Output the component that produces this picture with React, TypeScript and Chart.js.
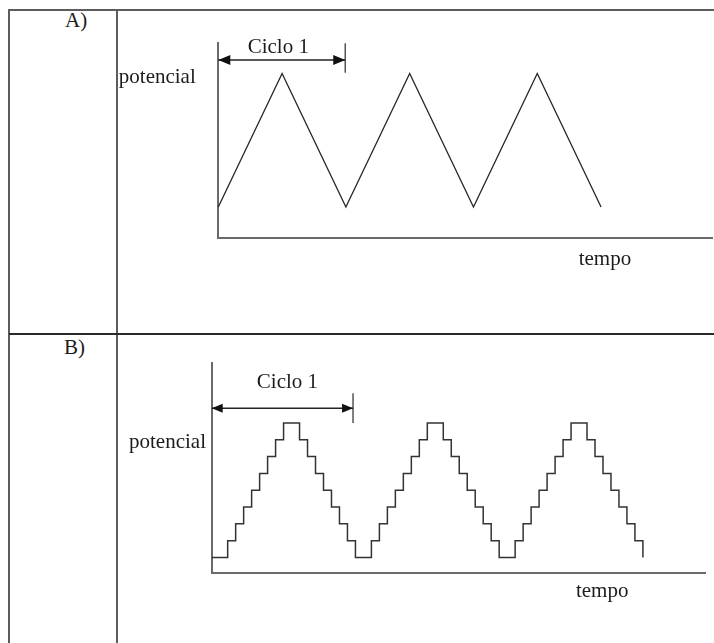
import { useEffect, useRef } from 'react';
import { Chart, registerables } from 'chart.js';

Chart.register(...registerables);

// ---- Data ----
// Panel A: triangular potential sweep (time in half-cycles, potential normalised)
const triangleTime = [0, 1, 2, 3, 4, 5, 6];
const trianglePotential = [0, 1, 0, 1, 0, 1, 0];

// Panel B: staircase potential sweep (time in step units, potential in step levels)
const stairTime = [
  0, 2, 3, 4, 5, 6, 7, 8, 9, 11, 12, 13, 14, 15, 16, 17, 18,
  20, 21, 22, 23, 24, 25, 26, 27, 29, 30, 31, 32, 33, 34, 35, 36,
  38, 39, 40, 41, 42, 43, 44, 45, 47, 48, 49, 50, 51, 52, 53, 54,
];
const stairPotential = [
  0, 1, 2, 3, 4, 5, 6, 7, 8, 7, 6, 5, 4, 3, 2, 1, 0,
  1, 2, 3, 4, 5, 6, 7, 8, 7, 6, 5, 4, 3, 2, 1, 0,
  1, 2, 3, 4, 5, 6, 7, 8, 7, 6, 5, 4, 3, 2, 1, 0,
];

// "Ciclo 1" span [start, end] and arrow level / tick extent
const cycleSpanA = [0, 1.99];
const cycleArrowA = [1.101, 1.226, 1.006]; // arrow y, tick top, tick bottom
const cycleSpanB = [0, 17.7];
const cycleArrowB = [8.87, 9.77, 8.0];

const panelLabels = ['A)', 'B)'];
const cycleLabel = 'Ciclo 1';
const yAxisLabel = 'potencial';
const xAxisLabel = 'tempo';

const FONT = "21px 'Liberation Serif', 'Times New Roman', serif";

type Spec = {
  time: number[];
  potential: number[];
  stepped: boolean;
  xMax: number;
  yMin: number;
  yMax: number;
  padding: { left: number; top: number; right: number; bottom: number };
  span: number[];
  arrow: number[];
  lineColor: string;
  lineWidth: number;
  cycleTextX: number;
  cycleBaselineOffset: number;
  yLabelLeftOffset: number;
  yLabelBaselineOffset: number;
  xLabelX: number;
  xLabelBaselineOffset: number;
  headLen: number;
  headHalf: number;
};

const specA: Spec = {
  time: triangleTime,
  potential: trianglePotential,
  stepped: false,
  xMax: 7.75,
  yMin: -0.23,
  yMax: 1.226,
  padding: { left: 218.3, top: 43.3, right: 714 - 712.7, bottom: 643 - 237.7 },
  span: cycleSpanA,
  arrow: cycleArrowA,
  lineColor: '#262626',
  lineWidth: 1.3,
  cycleTextX: 0.94,
  cycleBaselineOffset: 10,
  yLabelLeftOffset: -99.5,
  yLabelBaselineOffset: 39.5,
  xLabelX: 6.06,
  xLabelBaselineOffset: 27.5,
  headLen: 12,
  headHalf: 5,
};

const specB: Spec = {
  time: stairTime,
  potential: stairPotential,
  stepped: true,
  xMax: 61.9,
  yMin: -0.94,
  yMax: 11.55,
  padding: { left: 211.7, top: 363.3, right: 714 - 706, bottom: 643 - 573.3 },
  span: cycleSpanB,
  arrow: cycleArrowB,
  lineColor: '#333',
  lineWidth: 1.5,
  cycleTextX: 9.49,
  cycleBaselineOffset: 25,
  yLabelLeftOffset: -82.7,
  yLabelBaselineOffset: 84.7,
  xLabelX: 48.9,
  xLabelBaselineOffset: 23.5,
  headLen: 11,
  headHalf: 4.5,
};

function annotationPlugin(spec: Spec) {
  return {
    id: 'annotations',
    afterDatasetsDraw(chart: any) {
      const { ctx, chartArea } = chart;
      const x = chart.scales.x;
      const y = chart.scales.y;
      const x0 = x.getPixelForValue(spec.span[0]);
      const x1 = x.getPixelForValue(spec.span[1]);
      const ay = y.getPixelForValue(spec.arrow[0]);
      ctx.save();
      ctx.fillStyle = '#111';
      ctx.beginPath();
      ctx.moveTo(x0, ay);
      ctx.lineTo(x0 + spec.headLen, ay - spec.headHalf);
      ctx.lineTo(x0 + spec.headLen, ay + spec.headHalf);
      ctx.closePath();
      ctx.fill();
      ctx.beginPath();
      ctx.moveTo(x1, ay);
      ctx.lineTo(x1 - spec.headLen, ay - spec.headHalf);
      ctx.lineTo(x1 - spec.headLen, ay + spec.headHalf);
      ctx.closePath();
      ctx.fill();

      ctx.font = FONT;
      ctx.fillStyle = '#1c1c1c';
      ctx.textBaseline = 'alphabetic';
      ctx.textAlign = 'center';
      ctx.fillText(cycleLabel, x.getPixelForValue(spec.cycleTextX), chartArea.top + spec.cycleBaselineOffset);
      ctx.fillText(xAxisLabel, x.getPixelForValue(spec.xLabelX), chartArea.bottom + spec.xLabelBaselineOffset);
      ctx.textAlign = 'left';
      ctx.fillText(yAxisLabel, chartArea.left + spec.yLabelLeftOffset, chartArea.top + spec.yLabelBaselineOffset);
      ctx.restore();
    },
  };
}

function makeConfig(spec: Spec): any {
  const series = spec.time.map((t, i) => ({ x: t, y: spec.potential[i] }));
  const arrowLine = [
    { x: spec.span[0], y: spec.arrow[0] },
    { x: spec.span[1], y: spec.arrow[0] },
  ];
  const tickLine = [
    { x: spec.span[1], y: spec.arrow[1] },
    { x: spec.span[1], y: spec.arrow[2] },
  ];
  const axisBorder = { display: true, color: '#6a6a6a', width: 2 };
  return {
    type: 'line',
    data: {
      datasets: [
        {
          data: series,
          borderColor: spec.lineColor,
          borderWidth: spec.lineWidth,
          stepped: spec.stepped,
          pointRadius: 0,
          tension: 0,
          fill: false,
          clip: false,
        },
        {
          data: arrowLine,
          borderColor: '#222',
          borderWidth: 1.5,
          pointRadius: 0,
          fill: false,
          clip: false,
        },
        {
          data: tickLine,
          borderColor: '#555',
          borderWidth: 1.5,
          pointRadius: 0,
          fill: false,
          clip: false,
        },
      ],
    },
    options: {
      animation: false,
      responsive: false,
      events: [],
      layout: { padding: spec.padding },
      plugins: { legend: { display: false }, tooltip: { enabled: false }, title: { display: false } },
      scales: {
        x: {
          type: 'linear',
          min: 0,
          max: spec.xMax,
          grid: { display: false, lineWidth: 0 },
          ticks: { display: false },
          border: axisBorder,
          afterFit: (s: any) => {
            s.height = 0;
          },
        },
        y: {
          type: 'linear',
          min: spec.yMin,
          max: spec.yMax,
          grid: { display: false, lineWidth: 0 },
          ticks: { display: false },
          border: axisBorder,
          afterFit: (s: any) => {
            s.width = 0;
          },
        },
      },
    },
    plugins: [annotationPlugin(spec)],
  };
}

function Panel({ spec }: { spec: Spec }) {
  const ref = useRef<HTMLCanvasElement>(null);
  useEffect(() => {
    if (!ref.current) return;
    const chart = new Chart(ref.current, makeConfig(spec));
    return () => chart.destroy();
  }, [spec]);
  return (
    <canvas
      ref={ref}
      width={714}
      height={643}
      style={{ position: 'absolute', left: 0, top: 0, width: 714, height: 643 }}
    />
  );
}

const lineStyle = (l: number, t: number, w: number, h: number, c: string): React.CSSProperties => ({
  position: 'absolute',
  left: l,
  top: t,
  width: w,
  height: h,
  background: c,
});

const labelStyle = (l: number, t: number): React.CSSProperties => ({
  position: 'absolute',
  left: l,
  top: t,
  font: FONT,
  lineHeight: '21px',
  color: '#1c1c1c',
  whiteSpace: 'nowrap',
});

export default function App() {
  return (
    <div
      style={{
        position: 'absolute',
        left: 0,
        top: 0,
        width: 714,
        height: 643,
        background: '#fff',
        overflow: 'hidden',
      }}
    >
      <div style={lineStyle(9, 9, 705, 2, '#5c5c5c')} />
      <div style={lineStyle(8, 9, 2, 634, '#5c5c5c')} />
      <div style={lineStyle(116, 9, 2, 634, '#5c5c5c')} />
      <div style={lineStyle(9, 333, 705, 2, '#2a2a2a')} />
      <div style={labelStyle(65, 10.4)}>{panelLabels[0]}</div>
      <div style={labelStyle(64, 337.4)}>{panelLabels[1]}</div>
      <Panel spec={specA} />
      <Panel spec={specB} />
    </div>
  );
}
